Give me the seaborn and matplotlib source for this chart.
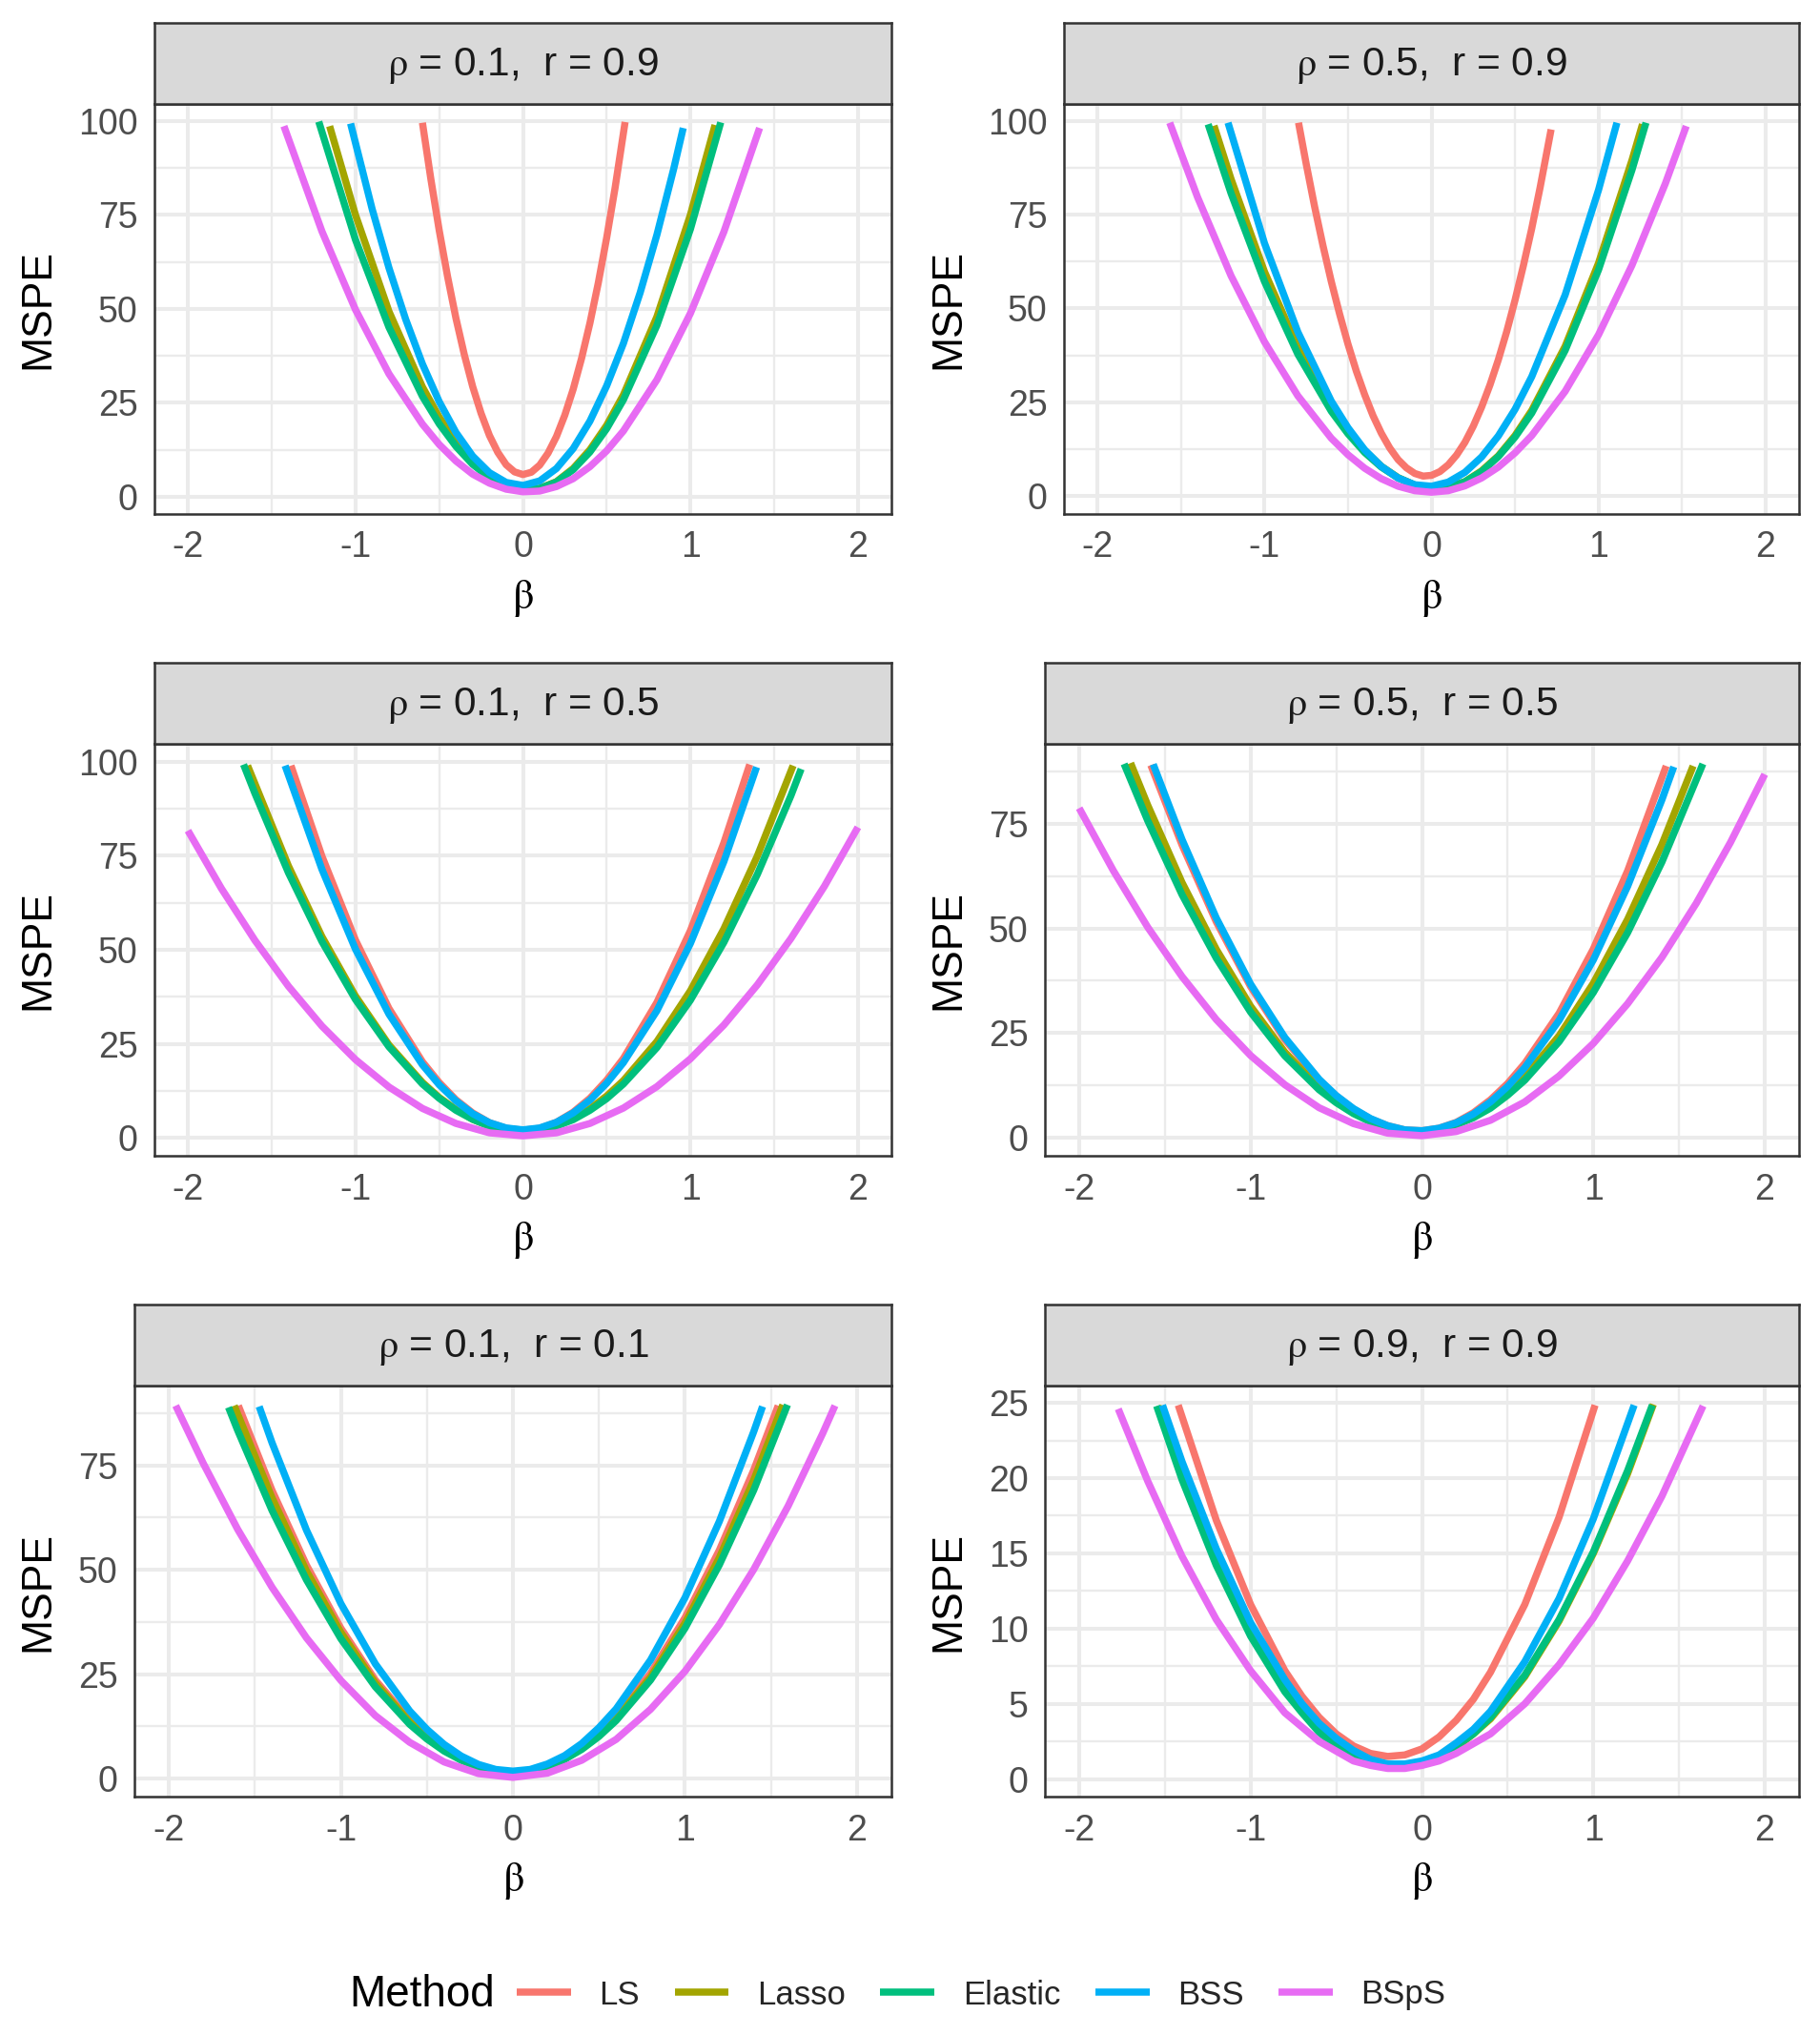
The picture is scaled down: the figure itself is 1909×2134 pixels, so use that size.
import matplotlib
matplotlib.use("Agg")
import numpy as np
import pandas as pd
import matplotlib.pyplot as plt
import seaborn as sns
from matplotlib.ticker import MultipleLocator
from matplotlib.lines import Line2D

# methods and ggplot default hue colours
methods = ["LS", "Lasso", "Elastic", "BSS", "BSpS"]
colors = ["#F8766D", "#A3A500", "#00BF7D", "#00B0F6", "#E76BF3"]

panel_rho = [0.1, 0.5, 0.1, 0.5, 0.1, 0.9]
panel_r = [0.9, 0.9, 0.5, 0.5, 0.1, 0.9]

# ---- panel 1 : rho = 0.1, r = 0.9
p1_ls_b = [-0.60, -0.55, -0.5, -0.45, -0.4, -0.35, -0.3, -0.25, -0.2, -0.15, -0.1, -0.05, 0.0,
           0.05, 0.1, 0.15, 0.2, 0.25, 0.3, 0.35, 0.4, 0.45, 0.5, 0.55, 0.61]
p1_ls_m = [99.5, 84.6, 70.9, 58.6, 47.5, 37.8, 29.3, 22.2, 16.3, 11.8, 8.5, 6.6, 5.9,
           6.5, 8.4, 11.6, 16.0, 21.7, 28.6, 36.8, 46.2, 56.9, 68.9, 82.1, 99.7]
p1_lasso_b = [-1.154, -1.0, -0.8, -0.6, -0.5, -0.4, -0.3, -0.2, -0.1, 0.0, 0.1, 0.2, 0.3, 0.4, 0.5, 0.6, 0.8, 1.0, 1.147]
p1_lasso_m = [98.6, 75.0, 49.3, 29.2, 21.2, 14.6, 9.3, 5.5, 3.0, 1.9, 2.2, 4.0, 7.5, 12.5, 19.0, 27.1, 47.9, 75.0, 98.9]
p1_elastic_b = [-1.219, -1.0, -0.8, -0.6, -0.5, -0.4, -0.3, -0.2, -0.1, 0.0, 0.1, 0.2, 0.3, 0.4, 0.5, 0.6, 0.8, 1.0, 1.181]
p1_elastic_m = [99.8, 68.4, 45.1, 26.7, 19.4, 13.4, 8.6, 5.1, 2.9, 1.9, 2.2, 3.9, 7.2, 11.9, 18.1, 25.8, 45.6, 71.2, 99.6]
p1_bss_b = [-1.029, -0.9, -0.8, -0.7, -0.6, -0.5, -0.4, -0.3, -0.2, -0.1, 0.0, 0.1, 0.2, 0.3, 0.4, 0.5, 0.6, 0.7, 0.8, 0.9, 0.957]
p1_bss_m = [99.3, 76.5, 60.9, 47.2, 35.3, 25.3, 17.1, 10.8, 6.4, 3.8, 3.0, 4.2, 7.5, 12.8, 20.1, 29.5, 40.8, 54.3, 69.7, 87.2, 98.1]
p1_bsps_b = [-1.427, -1.2, -1.0, -0.8, -0.6, -0.5, -0.4, -0.3, -0.2, -0.1, 0.0, 0.1, 0.2, 0.3, 0.4, 0.5, 0.6, 0.8, 1.0, 1.2, 1.413]
p1_bsps_m = [98.6, 70.6, 49.8, 32.7, 19.3, 13.9, 9.5, 6.0, 3.6, 2.0, 1.3, 1.5, 2.7, 4.8, 8.0, 12.2, 17.5, 31.1, 48.8, 70.5, 98.1]

# ---- panel 2 : rho = 0.5, r = 0.9
p2_ls_b = [-0.796, -0.75, -0.7, -0.65, -0.6, -0.55, -0.5, -0.45, -0.4, -0.35, -0.3, -0.25, -0.2, -0.15,
           -0.1, -0.05, 0.0, 0.05, 0.1, 0.15, 0.2, 0.25, 0.3, 0.35, 0.4, 0.45, 0.5, 0.55, 0.6, 0.65, 0.716]
p2_ls_m = [99.5, 88.5, 77.2, 66.8, 57.2, 48.5, 40.5, 33.3, 27.0, 21.4, 16.7, 12.8, 9.7, 7.5,
           6.0, 5.3, 5.5, 6.5, 8.3, 10.9, 14.3, 18.6, 23.7, 29.6, 36.3, 43.8, 52.2, 61.4, 71.3, 82.2, 97.7]
p2_lasso_b = [-1.302, -1.2, -1.0, -0.8, -0.6, -0.5, -0.4, -0.3, -0.2, -0.1, 0.0, 0.1, 0.2, 0.3, 0.4, 0.5, 0.6, 0.8, 1.0, 1.2, 1.263]
p2_lasso_m = [98.7, 84.5, 59.8, 39.6, 23.6, 17.3, 12.1, 7.9, 4.9, 2.9, 2.0, 2.3, 3.8, 6.7, 10.7, 16.1, 22.8, 39.9, 62.1, 89.5, 99.1]
p2_elastic_b = [-1.337, -1.2, -1.0, -0.8, -0.6, -0.5, -0.4, -0.3, -0.2, -0.1, 0.0, 0.1, 0.2, 0.3, 0.4, 0.5, 0.6, 0.8, 1.0, 1.2, 1.284]
p2_elastic_m = [99.1, 80.7, 57.2, 37.8, 22.6, 16.6, 11.6, 7.7, 4.8, 2.9, 2.0, 2.3, 3.8, 6.5, 10.5, 15.7, 22.1, 38.8, 60.3, 86.9, 99.5]
p2_bss_b = [-1.218, -1.0, -0.8, -0.6, -0.5, -0.4, -0.3, -0.2, -0.1, 0.0, 0.1, 0.2, 0.3, 0.4, 0.5, 0.6, 0.8, 1.0, 1.11]
p2_bss_m = [99.5, 67.4, 43.7, 25.3, 18.2, 12.3, 7.9, 4.8, 3.0, 2.6, 3.7, 6.3, 10.4, 16.0, 23.1, 31.8, 53.6, 81.6, 99.5]
p2_bsps_b = [-1.567, -1.4, -1.2, -1.0, -0.8, -0.6, -0.5, -0.4, -0.3, -0.2, -0.1, 0.0, 0.1, 0.2, 0.3, 0.4, 0.5, 0.6, 0.8, 1.0, 1.2, 1.4, 1.525]
p2_bsps_m = [99.5, 79.6, 58.7, 41.1, 26.7, 15.4, 11.0, 7.4, 4.6, 2.6, 1.4, 1.0, 1.4, 2.7, 4.8, 7.7, 11.5, 16.1, 27.9, 43.0, 61.5, 83.3, 98.6]

# ---- panel 3 : rho = 0.1, r = 0.5
p3_ls_b = [-1.385, -1.2, -1.0, -0.8, -0.6, -0.5, -0.4, -0.3, -0.2, -0.1, 0.0, 0.1, 0.2, 0.3, 0.4, 0.5, 0.6, 0.8, 1.0, 1.2, 1.354]
p3_ls_m = [99.0, 74.9, 52.6, 34.4, 20.2, 14.7, 10.1, 6.6, 4.0, 2.5, 2.0, 2.5, 4.1, 6.8, 10.5, 15.3, 21.1, 36.0, 55.1, 78.5, 99.3]
p3_lasso_b = [-1.644, -1.4, -1.2, -1.0, -0.8, -0.6, -0.5, -0.4, -0.3, -0.2, -0.1, 0.0, 0.1, 0.2, 0.3, 0.4, 0.5, 0.6, 0.8, 1.0, 1.2, 1.4, 1.613]
p3_lasso_m = [99.0, 72.3, 53.5, 37.7, 24.7, 14.7, 10.7, 7.5, 4.9, 3.1, 2.1, 1.7, 2.1, 3.2, 5.1, 7.7, 11.1, 15.2, 25.6, 39.1, 55.6, 75.0, 99.0]
p3_elastic_b = [-1.668, -1.6, -1.4, -1.2, -1.0, -0.8, -0.6, -0.5, -0.4, -0.3, -0.2, -0.1, 0.0, 0.1, 0.2, 0.3, 0.4, 0.5, 0.6, 0.8, 1.0, 1.2, 1.4, 1.6, 1.661]
p3_elastic_m = [99.3, 91.6, 70.5, 52.2, 36.8, 24.2, 14.3, 10.5, 7.3, 4.9, 3.1, 2.1, 1.7, 2.1, 3.1, 4.8, 7.3, 10.4, 14.3, 24.0, 36.6, 52.0, 70.1, 91.0, 98.1]
p3_bss_b = [-1.42, -1.2, -1.0, -0.8, -0.6, -0.5, -0.4, -0.3, -0.2, -0.1, 0.0, 0.1, 0.2, 0.3, 0.4, 0.5, 0.6, 0.8, 1.0, 1.2, 1.395]
p3_bss_m = [99.0, 71.4, 50.2, 32.9, 19.4, 14.1, 9.8, 6.4, 4.0, 2.6, 2.1, 2.6, 4.1, 6.6, 10.0, 14.5, 20.0, 33.8, 51.7, 73.5, 98.6]
p3_bsps_b = [-2.0, -1.8, -1.6, -1.4, -1.2, -1.0, -0.8, -0.6, -0.4, -0.2, 0.0, 0.2, 0.4, 0.6, 0.8, 1.0, 1.2, 1.4, 1.6, 1.8, 2.0]
p3_bsps_m = [81.7, 66.3, 52.5, 40.3, 29.7, 20.8, 13.5, 7.8, 3.8, 1.3, 0.5, 1.3, 3.8, 7.9, 13.6, 21.0, 30.0, 40.7, 53.0, 66.9, 82.6]

# ---- panel 4 : rho = 0.5, r = 0.5
p4_ls_b = [-1.582, -1.4, -1.2, -1.0, -0.8, -0.6, -0.5, -0.4, -0.3, -0.2, -0.1, 0.0, 0.1, 0.2, 0.3, 0.4, 0.5, 0.6, 0.8, 1.0, 1.2, 1.425]
p4_ls_m = [89.1, 70.0, 51.6, 36.1, 23.4, 13.7, 9.9, 6.8, 4.4, 2.8, 1.8, 1.6, 2.2, 3.6, 5.9, 9.0, 12.9, 17.7, 29.7, 45.1, 63.8, 88.9]
p4_lasso_b = [-1.70, -1.6, -1.4, -1.2, -1.0, -0.8, -0.6, -0.5, -0.4, -0.3, -0.2, -0.1, 0.0, 0.1, 0.2, 0.3, 0.4, 0.5, 0.6, 0.8, 1.0, 1.2, 1.4, 1.582]
p4_lasso_m = [89.6, 79.5, 61.0, 45.0, 31.4, 20.4, 11.9, 8.6, 5.9, 3.9, 2.4, 1.6, 1.4, 1.9, 3.1, 4.9, 7.4, 10.6, 14.5, 24.3, 36.9, 52.2, 70.1, 88.9]
p4_elastic_b = [-1.738, -1.6, -1.4, -1.2, -1.0, -0.8, -0.6, -0.5, -0.4, -0.3, -0.2, -0.1, 0.0, 0.1, 0.2, 0.3, 0.4, 0.5, 0.6, 0.8, 1.0, 1.2, 1.4, 1.639]
p4_elastic_m = [89.4, 75.8, 58.1, 42.9, 30.0, 19.5, 11.4, 8.3, 5.7, 3.7, 2.4, 1.6, 1.4, 1.9, 3.0, 4.7, 7.0, 10.1, 13.7, 22.9, 34.7, 49.0, 65.9, 89.4]
p4_bss_b = [-1.568, -1.4, -1.2, -1.0, -0.8, -0.6, -0.5, -0.4, -0.3, -0.2, -0.1, 0.0, 0.1, 0.2, 0.3, 0.4, 0.5, 0.6, 0.8, 1.0, 1.2, 1.4, 1.469]
p4_bss_m = [89.3, 71.3, 52.5, 36.7, 23.9, 13.9, 10.0, 6.9, 4.5, 2.8, 1.8, 1.6, 2.2, 3.5, 5.6, 8.5, 12.2, 16.7, 28.0, 42.5, 60.1, 80.8, 88.7]
p4_bsps_b = [-2.0, -1.8, -1.6, -1.4, -1.2, -1.0, -0.8, -0.6, -0.4, -0.2, 0.0, 0.2, 0.4, 0.6, 0.8, 1.0, 1.2, 1.4, 1.6, 1.8, 2.0]
p4_bsps_m = [78.8, 63.8, 50.3, 38.5, 28.2, 19.6, 12.6, 7.1, 3.3, 1.0, 0.4, 1.4, 4.1, 8.5, 14.7, 22.5, 32.0, 43.1, 56.0, 70.6, 86.9]

# ---- panel 5 : rho = 0.1, r = 0.1
p5_ls_b = [-1.596, -1.4, -1.2, -1.0, -0.8, -0.6, -0.5, -0.4, -0.3, -0.2, -0.1, 0.0, 0.1, 0.2, 0.3, 0.4, 0.5, 0.6, 0.8, 1.0, 1.2, 1.4, 1.542]
p5_ls_m = [89.3, 69.0, 51.1, 36.0, 23.6, 14.0, 10.2, 7.1, 4.7, 3.0, 1.9, 1.6, 2.0, 3.1, 4.9, 7.5, 10.8, 14.9, 25.2, 38.5, 54.7, 73.9, 89.3]
p5_lasso_b = [-1.62, -1.4, -1.2, -1.0, -0.8, -0.6, -0.5, -0.4, -0.3, -0.2, -0.1, 0.0, 0.1, 0.2, 0.3, 0.4, 0.5, 0.6, 0.8, 1.0, 1.2, 1.4, 1.569]
p5_lasso_m = [89.3, 67.2, 49.7, 35.0, 22.9, 13.6, 9.9, 6.9, 4.5, 2.8, 1.8, 1.5, 1.9, 2.9, 4.7, 7.2, 10.4, 14.4, 24.3, 37.2, 52.9, 71.5, 89.5]
p5_elastic_b = [-1.653, -1.6, -1.4, -1.2, -1.0, -0.8, -0.6, -0.5, -0.4, -0.3, -0.2, -0.1, 0.0, 0.1, 0.2, 0.3, 0.4, 0.5, 0.6, 0.8, 1.0, 1.2, 1.4, 1.596]
p5_elastic_m = [88.9, 83.4, 64.2, 47.6, 33.5, 22.0, 13.0, 9.5, 6.6, 4.4, 2.8, 1.8, 1.5, 1.9, 2.9, 4.6, 7.0, 10.1, 13.9, 23.6, 36.0, 51.2, 69.1, 89.5]
p5_bss_b = [-1.475, -1.4, -1.2, -1.0, -0.8, -0.6, -0.5, -0.4, -0.3, -0.2, -0.1, 0.0, 0.1, 0.2, 0.3, 0.4, 0.5, 0.6, 0.8, 1.0, 1.2, 1.4, 1.451]
p5_bss_m = [89.1, 80.4, 59.5, 41.9, 27.5, 16.2, 11.8, 8.2, 5.4, 3.4, 2.2, 1.8, 2.2, 3.5, 5.5, 8.4, 12.2, 16.7, 28.4, 43.3, 61.6, 83.1, 89.1]
p5_bsps_b = [-1.96, -1.8, -1.6, -1.4, -1.2, -1.0, -0.8, -0.6, -0.4, -0.2, 0.0, 0.2, 0.4, 0.6, 0.8, 1.0, 1.2, 1.4, 1.6, 1.8, 1.872]
p5_bsps_m = [89.3, 75.5, 59.7, 45.8, 33.7, 23.5, 15.1, 8.7, 4.0, 1.2, 0.3, 1.3, 4.4, 9.4, 16.6, 25.7, 36.9, 50.1, 65.3, 82.6, 89.3]

# ---- panel 6 : rho = 0.9, r = 0.9
p6_ls_b = [-1.422, -1.2, -1.0, -0.8, -0.7, -0.6, -0.5, -0.4, -0.3, -0.2, -0.1, 0.0, 0.1, 0.2, 0.3, 0.4, 0.6, 0.8, 1.01]
p6_ls_m = [24.85, 17.2, 11.6, 7.2, 5.5, 4.1, 3.0, 2.2, 1.7, 1.5, 1.6, 2.0, 2.8, 3.9, 5.3, 7.1, 11.6, 17.4, 24.85]
p6_lasso_b = [-1.54, -1.4, -1.2, -1.0, -0.8, -0.7, -0.6, -0.5, -0.4, -0.3, -0.2, -0.1, 0.0, 0.1, 0.2, 0.3, 0.4, 0.6, 0.8, 1.0, 1.2, 1.35]
p6_lasso_m = [24.8, 20.2, 14.5, 9.8, 6.0, 4.6, 3.3, 2.3, 1.6, 1.1, 0.8, 0.8, 1.0, 1.5, 2.1, 3.0, 4.0, 6.8, 10.5, 15.0, 20.3, 24.9]
p6_elastic_b = [-1.548, -1.4, -1.2, -1.0, -0.8, -0.7, -0.6, -0.5, -0.4, -0.3, -0.2, -0.1, 0.0, 0.1, 0.2, 0.3, 0.4, 0.6, 0.8, 1.0, 1.2, 1.344]
p6_elastic_m = [24.8, 19.9, 14.2, 9.5, 5.8, 4.4, 3.1, 2.2, 1.5, 1.0, 0.8, 0.8, 1.0, 1.5, 2.2, 3.0, 4.1, 6.9, 10.6, 15.1, 20.5, 24.85]
p6_bss_b = [-1.514, -1.4, -1.2, -1.0, -0.8, -0.7, -0.6, -0.5, -0.4, -0.3, -0.2, -0.1, 0.0, 0.1, 0.2, 0.3, 0.4, 0.6, 0.8, 1.0, 1.238]
p6_bss_m = [24.85, 21.1, 15.3, 10.4, 6.6, 5.0, 3.7, 2.7, 1.9, 1.3, 1.0, 1.0, 1.2, 1.6, 2.4, 3.3, 4.5, 7.8, 12.0, 17.3, 24.85]
p6_bsps_b = [-1.772, -1.6, -1.4, -1.2, -1.0, -0.8, -0.6, -0.4, -0.3, -0.2, -0.1, 0.0, 0.1, 0.2, 0.4, 0.6, 0.8, 1.0, 1.2, 1.4, 1.64]
p6_bsps_m = [24.6, 19.8, 14.8, 10.6, 7.2, 4.4, 2.5, 1.2, 0.9, 0.7, 0.7, 0.9, 1.2, 1.7, 3.0, 5.0, 7.6, 10.7, 14.5, 18.8, 24.8]

curves = [
    [(p1_ls_b, p1_ls_m), (p1_lasso_b, p1_lasso_m), (p1_elastic_b, p1_elastic_m), (p1_bss_b, p1_bss_m), (p1_bsps_b, p1_bsps_m)],
    [(p2_ls_b, p2_ls_m), (p2_lasso_b, p2_lasso_m), (p2_elastic_b, p2_elastic_m), (p2_bss_b, p2_bss_m), (p2_bsps_b, p2_bsps_m)],
    [(p3_ls_b, p3_ls_m), (p3_lasso_b, p3_lasso_m), (p3_elastic_b, p3_elastic_m), (p3_bss_b, p3_bss_m), (p3_bsps_b, p3_bsps_m)],
    [(p4_ls_b, p4_ls_m), (p4_lasso_b, p4_lasso_m), (p4_elastic_b, p4_elastic_m), (p4_bss_b, p4_bss_m), (p4_bsps_b, p4_bsps_m)],
    [(p5_ls_b, p5_ls_m), (p5_lasso_b, p5_lasso_m), (p5_elastic_b, p5_elastic_m), (p5_bss_b, p5_bss_m), (p5_bsps_b, p5_bsps_m)],
    [(p6_ls_b, p6_ls_m), (p6_lasso_b, p6_lasso_m), (p6_elastic_b, p6_elastic_m), (p6_bss_b, p6_bss_m), (p6_bsps_b, p6_bsps_m)],
]

# long table, one block per panel
frames = []
for k, panel in enumerate(curves):
    for meth, (b, m) in zip(methods, panel):
        frames.append(pd.DataFrame({"panel": k, "Method": meth, "beta": b, "MSPE": m}))
df = pd.concat(frames, ignore_index=True)

# ---- layout (pixels of the 1909 x 2134 output)
W, H = 1909, 2134
panel_px = [(162, 109, 935, 539), (1116, 109, 1887, 539),
            (162, 780, 935, 1212), (1096, 780, 1887, 1212),
            (141, 1453, 935, 1884), (1096, 1453, 1887, 1884)]
ylims = [(-4.6, 104.5), (-4.8, 104.5), (-4.8, 104.8), (-4.4, 94.2), (-4.3, 94.1), (-1.17, 26.15)]
ysteps = [25, 25, 25, 25, 25, 5]
ylab_x = [40, 995, 40, 995, 40, 995]
LW = 5.4

sns.set_theme(style="white")
plt.rcParams["font.family"] = ["Liberation Sans", "DejaVu Sans"]
plt.rcParams["mathtext.fontset"] = "stix"
plt.rcParams["axes.unicode_minus"] = False

fig = plt.figure(figsize=(W / 100, H / 100), dpi=100)
fig.patch.set_facecolor("white")


def px_rect(l, t, r, b):
    return [l / W, 1 - b / H, (r - l) / W, (b - t) / H]


for k in range(6):
    l, t, r, b = panel_px[k]
    ax = fig.add_axes(px_rect(l, t, r, b))
    sns.lineplot(data=df[df["panel"] == k], x="beta", y="MSPE", hue="Method",
                 hue_order=methods, palette=colors, estimator=None, sort=False,
                 legend=False, ax=ax)
    for ln in ax.lines:
        ln.set_linewidth(LW)
        ln.set_solid_capstyle("butt")
        ln.set_solid_joinstyle("round")
    ax.set_xlim(-2.2, 2.2)
    ax.set_ylim(*ylims[k])
    ax.xaxis.set_major_locator(MultipleLocator(1))
    ax.xaxis.set_minor_locator(MultipleLocator(0.5))
    ax.yaxis.set_major_locator(MultipleLocator(ysteps[k]))
    ax.yaxis.set_minor_locator(MultipleLocator(ysteps[k] / 2))
    ax.set_axisbelow(True)
    ax.grid(which="minor", color="#EBEBEB", linewidth=1.7)
    ax.grid(which="major", color="#EBEBEB", linewidth=2.9)
    ax.tick_params(which="major", length=8.6, width=2.2, color="#333333",
                   labelsize=27, labelcolor="#4D4D4D", pad=4)
    ax.tick_params(which="minor", length=0)
    for s in ax.spines.values():
        s.set_color("#333333")
        s.set_linewidth(1.8)
    ax.set_xlabel("")
    ax.set_ylabel("")

    # facet strip
    sax = fig.add_axes(px_rect(l, t - 85, r, t))
    sax.set_facecolor("#D9D9D9")
    sax.set_xticks([])
    sax.set_yticks([])
    for s in sax.spines.values():
        s.set_color("#333333")
        s.set_linewidth(1.8)
    sax.text(0.5, 0.47, r"$\mathrm{\rho}$ = %s,  r = %s" % (panel_rho[k], panel_r[k]),
             ha="center", va="center", fontsize=30.5, color="#1A1A1A",
             transform=sax.transAxes)

    # axis titles
    fig.text((l + r) / 2 / W, 1 - (b + 88) / H, r"$\mathrm{\beta}$", ha="center", va="center",
             fontsize=32, color="black")
    fig.text(ylab_x[k] / W, 1 - (t + b) / 2 / H, "MSPE", rotation=90, ha="center",
             va="center", fontsize=32, color="black")

# legend at the bottom
handles = [Line2D([0], [0], color=c, lw=LW, solid_capstyle="butt") for c in colors]
fig.text(366 / W, 1 - 2092 / H, "Method", fontsize=33, ha="left", va="center", color="black")
fig.legend(handles, methods, loc="center left", bbox_to_anchor=(542 / W, 1 - 2092 / H),
           ncol=5, frameon=False, fontsize=25, handlelength=1.64, handletextpad=0.85,
           columnspacing=1.05, borderpad=0, borderaxespad=0)

fig.savefig("out.png", dpi=100, facecolor="white")
